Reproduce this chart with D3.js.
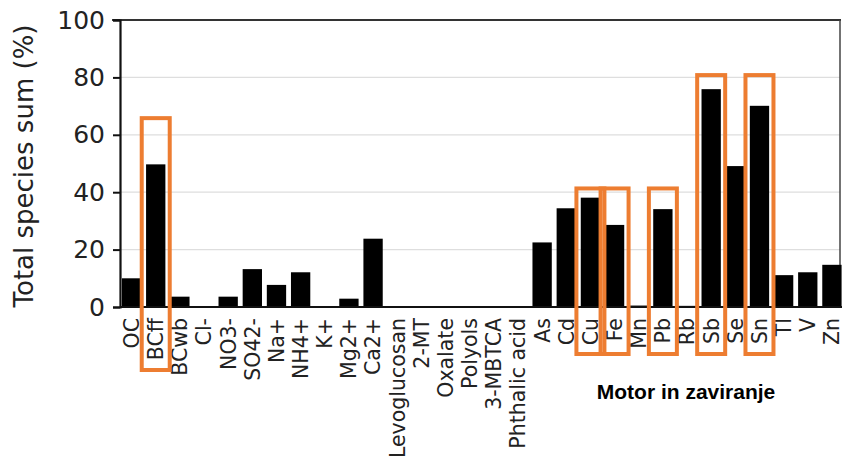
<!DOCTYPE html>
<html>
<head>
<meta charset="utf-8">
<script src="https://cdn.jsdelivr.net/npm/d3@7"></script>
<style>
  html, body { margin: 0; padding: 0; background: #fff; }
  svg { display: block; }
</style>
</head>
<body>
<script>
// ---- data ----
const categories = ["OC", "BCff", "BCwb", "Cl-", "NO3-", "SO42-", "Na+", "NH4+", "K+", "Mg2+", "Ca2+",
  "Levoglucosan", "2-MT", "Oxalate", "Polyols", "3-MBTCA", "Phthalic acid",
  "As", "Cd", "Cu", "Fe", "Mn", "Pb", "Rb", "Sb", "Se", "Sn", "Tl", "V", "Zn"];
const values = [10.0, 49.7, 3.6, 0, 3.6, 13.2, 7.7, 12.1, 0, 2.9, 23.8,
  0, 0, 0, 0, 0, 0,
  22.5, 34.4, 38.1, 28.6, 0.5, 34.1, 0.4, 75.9, 49.1, 70.1, 11.1, 12.1, 14.7];
const yTicks = [0, 20, 40, 60, 80, 100];
const highlightCats = ["BCff", "Cu", "Fe", "Pb", "Sb", "Sn"];
const highlightTops = [66.5, 42, 42, 42, 81.5, 81.5];
const yLabel = "Total species sum (%)";
const annotation = "Motor in zaviranje";

// ---- layout ----
const W = 842, H = 469;
const mLeft = 120, mTop = 20, mBottom = 307;
const svg = d3.select("body").append("svg").attr("width", W).attr("height", H);

const x = d3.scaleBand().domain(categories).range([119.5, 844]).paddingInner(0.2).paddingOuter(0.1);
const y = d3.scaleLinear().domain([0, 100]).range([mBottom, mTop]);

// gridlines
svg.append("g").selectAll("line").data(yTicks.filter(t => t > 0 && t < 100)).join("line")
  .attr("x1", mLeft).attr("x2", 840)
  .attr("y1", d => y(d)).attr("y2", d => y(d))
  .attr("stroke", "#dedede").attr("stroke-width", 1.2);

// frame top & right
svg.append("line").attr("x1", 112).attr("x2", 841).attr("y1", mTop).attr("y2", mTop)
  .attr("stroke", "#333").attr("stroke-width", 2);
svg.append("line").attr("x1", 840).attr("x2", 840).attr("y1", mTop).attr("y2", mBottom)
  .attr("stroke", "#444").attr("stroke-width", 1.5);

// bars
svg.append("g").selectAll("rect").data(categories).join("rect")
  .attr("x", d => x(d))
  .attr("width", x.bandwidth())
  .attr("y", (d, i) => y(values[i]))
  .attr("height", (d, i) => mBottom - y(values[i]))
  .attr("fill", "#000");

// y axis
const yAxis = svg.append("g").attr("transform", `translate(${mLeft},0)`)
  .call(d3.axisLeft(y).tickValues(yTicks).tickSize(7).tickPadding(8));
yAxis.select(".domain").attr("stroke", "#111").attr("stroke-width", 2.2);
yAxis.selectAll(".tick line").attr("stroke", "#111").attr("stroke-width", 2);
yAxis.selectAll(".tick text").attr("font-family", "DejaVu Sans").attr("font-size", 25).attr("fill", "#222");

// x axis
const xAxis = svg.append("g").attr("transform", `translate(0,${mBottom})`)
  .call(d3.axisBottom(x).tickSize(0).tickPadding(0));
xAxis.select(".domain").remove();
svg.append("line").attr("x1", mLeft).attr("x2", W).attr("y1", mBottom).attr("y2", mBottom)
  .attr("stroke", "#111").attr("stroke-width", 2.2);
xAxis.selectAll(".tick text")
  .attr("font-family", "DejaVu Sans").attr("font-size", 20.5).attr("fill", "#222")
  .attr("transform", "rotate(-90)")
  .attr("text-anchor", "end")
  .attr("x", -11).attr("y", 0).attr("dy", "0.36em");

// y label
svg.append("text")
  .attr("transform", `translate(33,166) rotate(-90)`)
  .attr("text-anchor", "middle")
  .attr("font-family", "DejaVu Sans").attr("font-size", 26).attr("fill", "#222")
  .text(yLabel);

// highlight boxes
const hw = 14;
svg.append("g").selectAll("rect").data(highlightCats).join("rect")
  .attr("x", d => x(d) + x.bandwidth() / 2 - hw)
  .attr("width", hw * 2)
  .attr("y", (d, i) => y(highlightTops[i]) + 2)
  .attr("height", (d, i) => (d === "BCff" ? 370 : 354) - y(highlightTops[i]) - 2)
  .attr("fill", "none").attr("stroke", "#ED7D31").attr("stroke-width", 4);

// annotation
svg.append("text").attr("x", 686).attr("y", 399).attr("text-anchor", "middle")
  .attr("font-family", "Liberation Sans, Arial").attr("font-weight", "bold").attr("font-size", 21)
  .attr("fill", "#000").text(annotation);
</script>
</body>
</html>
